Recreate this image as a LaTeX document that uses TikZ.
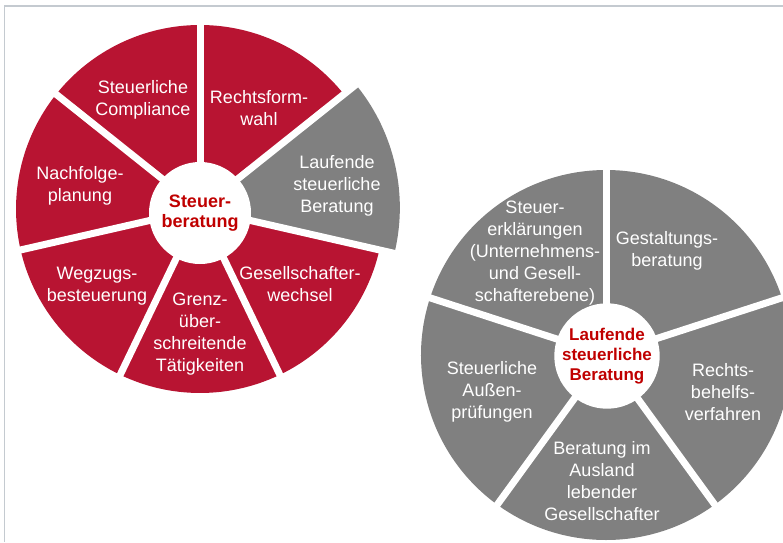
\documentclass[tikz,border=0pt]{standalone}
\usepackage{fontspec}
\setmainfont{Liberation Sans}
\usepackage{tikz}
\definecolor{wheelred}{RGB}{184,20,50}
\definecolor{wheelgray}{RGB}{128,128,128}
\definecolor{hubred}{RGB}{192,0,0}
\definecolor{framegray}{RGB}{196,202,208}
\tikzstyle{seglabel} = [text=white, align=center, inner sep=0pt, font=\fontsize{18}{22}\selectfont]
\tikzstyle{hub} = [circle, fill=white, minimum size=102pt, inner sep=0pt, align=center, text=hubred, font=\bfseries\fontsize{18}{20}\selectfont]
\tikzstyle{gap} = [white, line width=7pt]

\begin{document}
\begin{tikzpicture}[x=1pt,y=1pt]
        \clip (0,0) rectangle (783,542);

        % Steuerberatung
        \coordinate (lc) at (200,333);
        \fill [wheelred] (lc) -- ++(90:184) arc[start angle=90, end angle=141.43, radius=184] -- cycle;
        \fill [wheelred] (lc) -- ++(141.43:184) arc[start angle=141.43, end angle=192.86, radius=184] -- cycle;
        \fill [wheelred] (lc) -- ++(192.86:184) arc[start angle=192.86, end angle=244.29, radius=184] -- cycle;
        \fill [wheelred] (lc) -- ++(244.29:184) arc[start angle=244.29, end angle=295.71, radius=184] -- cycle;
        \fill [wheelred] (lc) -- ++(295.71:184) arc[start angle=295.71, end angle=347.14, radius=184] -- cycle;
        \fill [wheelred] (lc) -- ++(38.57:184) arc[start angle=38.57, end angle=90, radius=184] -- cycle;
        \fill [wheelgray] ([shift={(12.86:6)}]lc) -- ++(-12.86:194) arc[start angle=-12.86, end angle=38.57, radius=194] -- cycle;
        \draw [gap] (lc) -- ++(90:210);
        \draw [gap] (lc) -- ++(141.43:210);
        \draw [gap] (lc) -- ++(192.86:210);
        \draw [gap] (lc) -- ++(244.29:210);
        \draw [gap] (lc) -- ++(295.71:210);
        \draw [gap] (lc) -- ++(-12.86:210);
        \draw [gap] (lc) -- ++(38.57:210);
        \node (lhub) [hub] at (200,329) {Steuer-\\beratung};
        \node (compl) [seglabel] at (143,442) {Steuerliche\\Compliance};
        \node (rform) [seglabel] at (259,434) {Rechtsform-\\wahl};
        \node (lauf) [seglabel] at (337,356) {Laufende\\steuerliche\\Beratung};
        \node (gesw) [seglabel] at (300,258) {Gesellschafter-\\wechsel};
        \node (grenz) [seglabel] at (200,208) {Grenz-\\über-\\schreitende\\Tätigkeiten};
        \node (wegz) [seglabel] at (97,256) {Wegzugs-\\besteuerung};
        \node (nachf) [seglabel] at (80,356) {Nachfolge-\\planung};

        % Laufende steuerliche Beratung
        \coordinate (rc) at (606,187);
        \fill [wheelgray] (rc) -- ++(90:185) arc[start angle=90, end angle=162, radius=185] -- cycle;
        \fill [wheelgray] (rc) -- ++(162:185) arc[start angle=162, end angle=234, radius=185] -- cycle;
        \fill [wheelgray] (rc) -- ++(234:185) arc[start angle=234, end angle=306, radius=185] -- cycle;
        \fill [wheelgray] (rc) -- ++(306:185) arc[start angle=306, end angle=378, radius=185] -- cycle;
        \fill [wheelgray] (rc) -- ++(18:185) arc[start angle=18, end angle=90, radius=185] -- cycle;
        \draw [gap] (rc) -- ++(90:200);
        \draw [gap] (rc) -- ++(162:200);
        \draw [gap] (rc) -- ++(234:200);
        \draw [gap] (rc) -- ++(306:200);
        \draw [gap] (rc) -- ++(18:200);
        \node (rhub) [hub, font=\bfseries\fontsize{17}{20}\selectfont] at (607,186) {Laufende\\steuerliche\\Beratung};
        \node (sterkl) [seglabel] at (535,289) {Steuer-\\erklärungen\\(Unternehmens-\\und Gesell-\\schafterebene)};
        \node (gestalt) [seglabel] at (667,291) {Gestaltungs-\\beratung};
        \node (rbehelf) [seglabel] at (723,150) {Rechts-\\behelfs-\\verfahren};
        \node (ausland) [seglabel] at (602,61) {Beratung im\\Ausland\\lebender\\Gesellschafter};
        \node (aussen) [seglabel] at (492,150) {Steuerliche\\Außen-\\prüfungen};

        % page frame
        \draw [framegray, line width=1.5pt] (4.5,0) -- (4.5,536) -- (783,536);
    \end{tikzpicture}
\end{document}
